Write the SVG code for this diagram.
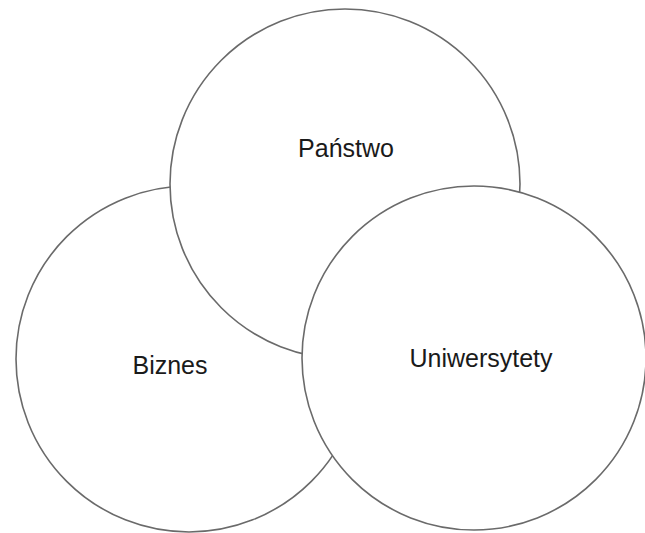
<svg xmlns="http://www.w3.org/2000/svg" width="645" height="533" viewBox="0 0 645 533">
<style>
.c{fill:#fff;stroke:#6a6a6a;stroke-width:1.6}
.t{font-family:"Liberation Sans",Arial,sans-serif;font-size:25px;fill:#1a1a1a;text-anchor:middle}
</style>
<rect width="645" height="533" fill="#fff"/>
<g id="connectors"></g>
<g id="biznes"><circle class="c" cx="189" cy="359" r="173"/><text class="t" x="170" y="374">Biznes</text></g>
<g id="panstwo"><circle class="c" cx="345" cy="184" r="175"/><text class="t" x="346" y="157">Państwo</text></g>
<g id="uniwersytety"><circle class="c" cx="474" cy="358" r="172"/><text class="t" x="481" y="367">Uniwersytety</text></g>
</svg>
